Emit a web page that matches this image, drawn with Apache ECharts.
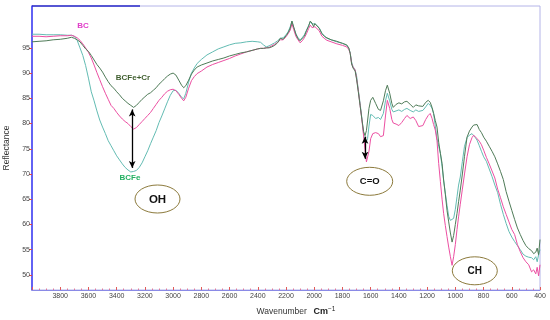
<!DOCTYPE html>
<html><head><meta charset="utf-8">
<script src="https://cdn.jsdelivr.net/npm/echarts@6/dist/echarts.min.js"></script>
<style>html,body{margin:0;padding:0;background:#fff}#c{width:550px;height:320px}</style>
</head><body><div id="c"></div>
<script>
const wavenumbers = [4000,3950,3900,3850,3800,3750,3720,3700,3680,3660,3640,3620,3600,3580,3560,3540,3520,3500,3480,3460,3440,3420,3400,3380,3360,3340,3320,3300,3280,3260,3240,3220,3200,3180,3160,3140,3120,3100,3080,3060,3040,3020,3000,2980,2960,2940,2925,2910,2890,2870,2850,2830,2800,2760,2720,2680,2640,2600,2560,2520,2480,2440,2400,2380,2360,2340,2320,2300,2280,2260,2240,2220,2200,2185,2170,2158,2145,2130,2115,2100,2085,2070,2055,2040,2028,2015,2005,1995,1981,1965,1945,1925,1910,1880,1840,1800,1770,1755,1745,1735,1725,1710,1700,1688,1675,1662,1650,1640,1630,1622,1612,1600,1585,1565,1545,1530,1510,1495,1482,1465,1450,1440,1420,1400,1380,1360,1343,1320,1298,1280,1260,1248,1230,1210,1192,1178,1165,1154,1142,1130,1118,1106,1094,1083,1071,1059,1047,1035,1023,1012,1000,988,977,965,950,935,917,900,882,870,858,846,830,815,799,780,760,740,720,700,680,660,640,620,600,580,560,540,520,500,480,460,445,430,420,410,400];
const bcFe = [97.7,97.7,97.6,97.6,97.6,97.5,97.5,97.3,96.5,95.0,93.5,91.5,89.0,86.3,84.5,82.5,80.7,79.3,78.0,76.6,75.6,74.6,73.6,72.8,72.0,71.3,70.8,70.4,70.5,70.7,71.3,72.2,73.4,74.6,76.0,77.3,78.6,80.2,81.5,82.9,84.3,85.6,86.5,86.6,86.0,85.2,84.9,86.0,88.2,90.0,91.0,91.9,92.7,93.6,94.2,94.8,95.2,95.6,95.9,96.0,96.2,96.3,96.2,96.1,95.6,95.2,95.4,95.7,96.0,96.4,96.9,97.0,97.6,98.2,99.2,100.3,99.0,97.8,97.0,96.6,97.0,97.6,98.5,99.4,100.2,99.7,99.4,99.8,100.0,99.0,97.9,97.3,96.9,96.6,96.2,95.9,95.5,94.9,94.0,92.2,91.3,90.6,89.5,86.8,84.0,81.0,78.0,75.8,75.6,77.0,79.5,81.8,81.6,81.0,81.2,80.8,82.0,84.5,86.0,84.5,82.8,82.3,82.5,82.7,82.4,82.8,83.0,82.6,82.3,82.7,82.4,82.5,82.6,83.3,84.0,83.6,83.0,82.0,79.5,77.0,75.5,74.1,71.5,68.8,66.2,63.8,61.6,60.8,60.5,61.2,63.0,65.5,67.8,69.4,72.5,75.5,77.2,77.7,78.0,77.6,77.2,76.7,75.6,74.5,73.4,72.5,71.0,69.5,67.8,66.3,64.0,62.0,60.2,58.6,57.5,56.6,55.8,55.0,54.1,53.7,53.5,53.4,53.0,53.6,52.6,54.0,55.0];
const bc = [97.3,97.3,97.2,97.3,97.4,97.4,97.5,97.3,97.0,96.5,95.8,95.0,94.1,93.0,91.6,90.1,88.7,87.3,86.0,84.8,83.6,83.0,82.2,81.5,80.9,80.4,80.0,79.4,78.9,79.2,79.8,80.4,81.0,81.6,82.2,83.0,83.8,84.6,85.2,85.9,86.4,86.7,86.8,86.5,85.8,85.0,84.5,85.2,87.0,88.5,89.3,89.9,90.4,91.2,91.7,92.1,92.5,92.9,93.4,93.8,94.2,94.5,94.8,94.9,94.9,95.0,95.1,95.4,95.7,96.1,96.6,96.6,97.2,97.8,98.5,99.8,98.6,97.3,96.6,96.0,96.4,97.0,97.8,98.8,99.5,99.0,98.8,99.2,99.3,98.4,97.3,96.8,96.5,96.2,95.8,95.5,95.2,94.7,93.9,91.9,91.2,90.6,89.0,86.6,83.6,80.7,77.5,74.8,72.4,72.6,74.5,77.0,78.0,78.2,78.0,77.4,77.6,81.5,84.6,83.0,80.8,80.1,79.9,79.6,80.2,81.0,81.6,81.0,81.3,80.6,79.4,79.1,79.6,80.8,81.6,82.0,81.0,79.8,78.7,76.6,72.1,68.5,65.0,62.2,59.8,57.6,55.5,53.6,51.9,53.6,56.0,59.0,61.5,64.0,67.0,70.0,73.4,75.8,77.2,77.7,77.4,77.0,76.5,75.8,74.7,73.3,72.0,70.6,69.2,67.0,65.3,63.5,62.0,60.5,59.0,58.0,56.0,54.6,53.4,52.6,52.0,50.6,51.0,50.2,51.5,49.8,52.0];
const bcFeCr = [96.2,96.3,96.4,96.6,96.7,96.9,97.1,96.9,96.6,96.2,95.5,94.8,94.3,93.5,92.6,91.7,91.0,90.2,89.2,88.3,87.5,87.0,86.3,85.7,85.0,84.5,84.0,83.6,83.2,83.6,84.2,84.8,85.3,85.8,86.1,86.6,87.1,87.8,88.3,88.9,89.4,89.8,90.0,89.6,88.6,87.6,87.1,87.5,88.6,89.8,90.6,91.2,91.6,92.0,92.4,92.7,93.0,93.4,93.7,94.0,94.2,94.5,94.8,94.9,94.9,95.0,95.0,95.2,95.5,96.0,96.9,96.7,97.4,98.0,98.9,100.3,99.1,97.7,96.8,96.4,96.9,97.3,98.4,99.3,100.3,99.9,99.2,99.8,100.1,98.9,97.8,97.2,97.0,96.6,96.3,95.9,95.6,95.0,93.9,91.8,91.0,90.4,88.8,86.4,83.6,80.8,78.4,77.6,78.6,80.5,83.0,84.6,85.2,84.0,82.8,82.6,84.5,86.5,87.6,86.0,84.0,83.2,83.8,84.1,83.9,84.3,84.4,83.8,83.2,83.7,83.5,83.6,83.4,84.2,84.6,84.2,83.2,82.0,80.6,79.3,76.3,74.1,72.1,68.8,66.0,62.8,60.5,58.3,56.5,57.8,60.0,62.2,64.5,66.8,70.0,73.5,77.3,78.5,79.3,79.7,80.0,79.8,78.8,78.2,77.3,76.5,75.5,74.5,73.4,72.0,70.5,68.9,66.5,64.6,62.8,61.0,59.3,58.0,56.8,55.8,55.2,54.8,54.2,54.5,55.3,54.0,57.0];
const yTickValues = [50,55,60,65,70,75,80,85,90,95];
const seriesNames = ['BCFe','BC','BCFe+Cr'];
const seriesColors = ['#63bcb3','#ec4fa2','#4f7b58'];

const chart = echarts.init(document.getElementById('c'), null, {renderer:'canvas'});
const pairs = arr => wavenumbers.map((w,i)=>[w,arr[i]]);
const lbl = {fontFamily:'Liberation Sans, Arial, sans-serif', fontSize:7, color:'#444'};
chart.setOption({
  animation:false,
  backgroundColor:'#fff',
  grid:{left:32,right:10,top:6,bottom:30,show:true,borderColor:'#b4b4e8',borderWidth:1,containLabel:false,outerBoundsMode:'none'},
  xAxis:{type:'value',inverse:true,min:400,max:4000,interval:200,
    axisLine:{show:true,onZero:false,lineStyle:{color:'#8a8ae6',width:1}},
    axisTick:{show:true,inside:true,length:3,lineStyle:{color:'#e05a5a'}},
    minorTick:{show:true,splitNumber:4,length:1.5,lineStyle:{color:'#e07a9a'}},
    splitLine:{show:false},
    axisLabel:Object.assign({margin:3,formatter:v=>v===4000?'':String(v)},lbl)},
  yAxis:{type:'value',min:47,max:103.3,
    axisLine:{show:true,lineStyle:{color:'#3a3af5',width:1.5}},
    axisTick:{show:true,customValues:yTickValues,length:3,lineStyle:{color:'#e04848'}},
    axisLabel:Object.assign({customValues:yTickValues,margin:2},lbl),
    splitLine:{show:false},
    name:'Reflectance',nameLocation:'middle',nameGap:19,
    nameTextStyle:{fontFamily:'Liberation Sans, Arial, sans-serif',fontSize:8.5,color:'#333'}},
  series:[
    {name:seriesNames[0],type:'line',showSymbol:false,data:pairs(bcFe),lineStyle:{width:1,color:seriesColors[0]},itemStyle:{color:seriesColors[0]}},
    {name:seriesNames[1],type:'line',showSymbol:false,data:pairs(bc),lineStyle:{width:1,color:seriesColors[1]},itemStyle:{color:seriesColors[1]}},
    {name:seriesNames[2],type:'line',showSymbol:false,data:pairs(bcFeCr),lineStyle:{width:1,color:seriesColors[2]},itemStyle:{color:seriesColors[2]},
      markLine:{silent:true,symbol:['arrow','arrow'],symbolSize:[5,7],label:{show:false},
        lineStyle:{color:'#000',width:1.3,type:'solid'},
        data:[[{coord:[3290,82.8]},{coord:[3290,71.2]}],[{coord:[1640,77.4]},{coord:[1640,73.0]}]]}}
  ],
  graphic:[
    {type:'line',shape:{x1:32,y1:6,x2:140,y2:6},style:{stroke:'#2a2ac8',lineWidth:1.5},z:10},
    {type:'text',x:83,y:26,style:{text:'BC',fill:'#e03cc8',font:'bold 8px Liberation Sans',textAlign:'center',textVerticalAlign:'middle'},z:10},
    {type:'text',x:133,y:78,style:{text:'BCFe+Cr',fill:'#3f5e2e',font:'bold 8px Liberation Sans',textAlign:'center',textVerticalAlign:'middle'},z:10},
    {type:'text',x:130,y:178,style:{text:'BCFe',fill:'#22b062',font:'bold 8px Liberation Sans',textAlign:'center',textVerticalAlign:'middle'},z:10},
    {type:'ellipse',shape:{cx:157.5,cy:199,rx:22.5,ry:14},style:{fill:'#fff',stroke:'#8c7a3c',lineWidth:1},z:10},
    {type:'text',x:157.5,y:199.5,style:{text:'OH',fill:'#111',font:'bold 11.5px Liberation Sans',textAlign:'center',textVerticalAlign:'middle'},z:11},
    {type:'ellipse',shape:{cx:369.7,cy:181.3,rx:23,ry:14},style:{fill:'#fff',stroke:'#8c7a3c',lineWidth:1},z:10},
    {type:'text',x:369.7,y:181.8,style:{text:'C=O',fill:'#111',font:'bold 9.5px Liberation Sans',textAlign:'center',textVerticalAlign:'middle'},z:11},
    {type:'ellipse',shape:{cx:474.8,cy:270.8,rx:22.5,ry:14},style:{fill:'#fff',stroke:'#8c7a3c',lineWidth:1},z:10},
    {type:'text',x:474.8,y:271.3,style:{text:'CH',fill:'#111',font:'bold 10px Liberation Sans',textAlign:'center',textVerticalAlign:'middle'},z:11},
    {type:'text',x:296,y:312,style:{rich:{a:{fontSize:8.5,fontFamily:'Liberation Sans',fill:'#333'},b:{fontSize:9,fontWeight:'bold',fontFamily:'Liberation Sans',fill:'#222'},s:{fontSize:6.5,fontFamily:'Liberation Sans',fill:'#222',verticalAlign:'top',padding:[0,0,4,0]}},text:'{a|Wavenumber}  {b|Cm}{s|−1}',textAlign:'center',textVerticalAlign:'middle'},z:10}
  ]
});
</script></body></html>
